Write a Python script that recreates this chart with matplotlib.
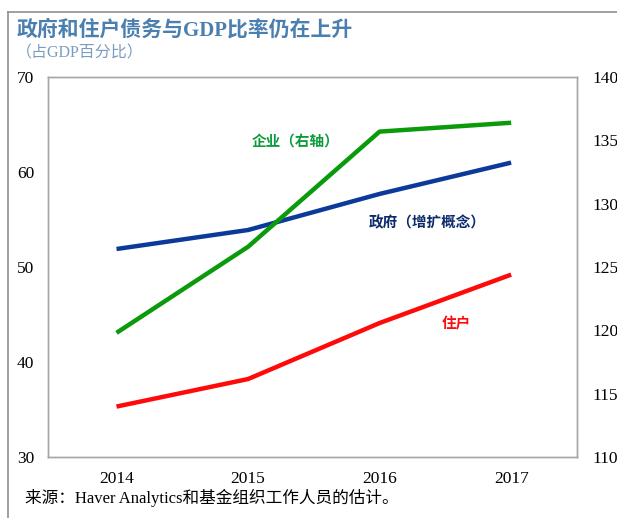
import matplotlib
matplotlib.use("Agg")
import matplotlib.pyplot as plt
from matplotlib.lines import Line2D

years = [2014, 2015, 2016, 2017]
government = [51.9, 53.9, 57.7, 61.0]
household = [35.3, 38.2, 44.1, 49.2]
corporate = [119.8, 126.6, 135.7, 136.4]  # right axis

serif_cjk = ['Liberation Serif', 'Noto Sans CJK SC']
plt.rcParams['font.family'] = serif_cjk

fig = plt.figure(figsize=(6.17, 5.18), dpi=100)
ax = fig.add_axes([0.078, 0.118, 0.857, 0.733])
ax2 = ax.twinx()

ax.plot(years, government, color='#0b3a9a', lw=3.2, solid_capstyle='butt', zorder=3)
ax.plot(years, household, color='#ff0a0a', lw=3.2, solid_capstyle='butt', zorder=3)
ax2.plot(years, corporate, color='#0b9a0b', lw=3.2, solid_capstyle='butt', zorder=3)

ax.set_xlim(2013.48, 2017.5)
ax.set_ylim(30, 70)
ax2.set_ylim(110, 140)
ax.set_yticks(range(30, 71, 10))
ax2.set_yticks(range(110, 141, 5))
ax.set_xticks(years)

for a in (ax, ax2):
    for s in a.spines.values():
        s.set_color('#a6a6a6')
        s.set_linewidth(1.0)
    a.tick_params(length=0, labelsize=12.5)
ax.tick_params(axis='y', pad=10)
ax2.tick_params(axis='y', pad=11)
ax.tick_params(axis='x', pad=10)

ax.text(2015.03, 63.3, '企业（右轴）', color='#0b9a3a', fontsize=10.5, fontweight='bold',
        family='Noto Sans CJK SC', va='center')
ax.text(2015.92, 54.7, '政府（增扩概念）', color='#0b2a6a', fontsize=10.5, fontweight='bold',
        family='Noto Sans CJK SC', va='center')
ax.text(2016.47, 44.1, '住户', color='#ff0a0a', fontsize=10.5, fontweight='bold',
        family='Noto Sans CJK SC', va='center')

fig.text(0.027, 0.942, '政府和住户债务与GDP比率仍在上升', color='#4a7fb0', fontsize=15,
         fontweight='bold', va='center', ha='left')
fig.text(0.025, 0.897, '（占GDP百分比）', color='#7a9cc0', fontsize=11.5, va='center', ha='left')
fig.text(0.04, 0.038, '来源：Haver Analytics和基金组织工作人员的估计。', fontsize=12,
         va='center', ha='left')

# outer frame (left and top edges)
fig.add_artist(Line2D([0.013, 0.013], [0.0, 0.977], color='#909090', lw=1.2))
fig.add_artist(Line2D([0.013, 1.0], [0.977, 0.977], color='#909090', lw=1.2))

fig.savefig('out.png', dpi=100)
